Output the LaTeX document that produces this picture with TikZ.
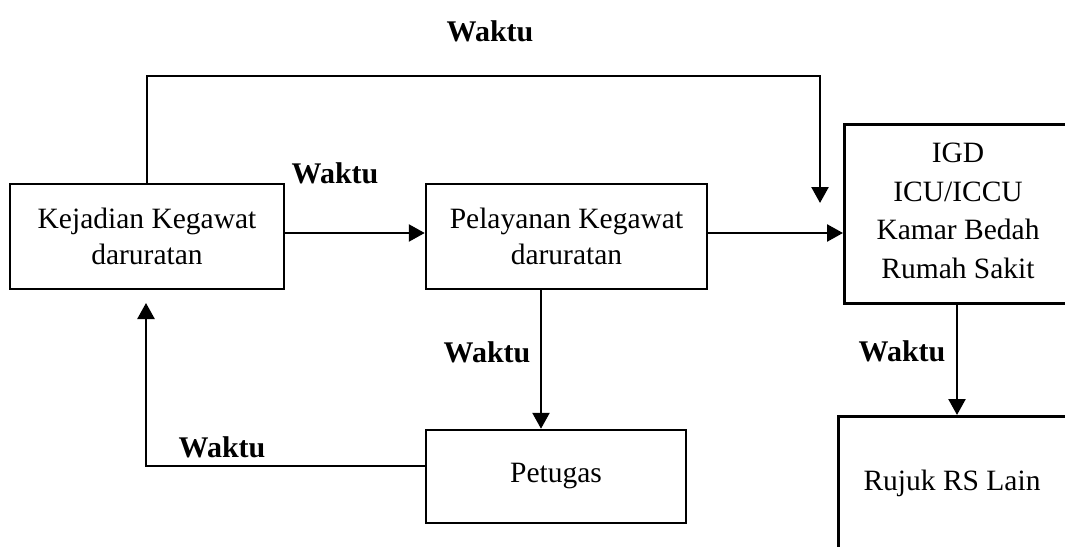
\documentclass[tikz,border=0pt]{standalone}
\usepackage{fontspec}
\setmainfont{Liberation Serif}
\usetikzlibrary{arrows.meta}
\tikzset{
  box/.style={draw, line width=2.5pt, rectangle, inner sep=0pt, align=center,
    font=\fontsize{29.5}{36}\selectfont},
  txt/.style={inner sep=0pt, align=center, font=\fontsize{29.5}{38.7}\selectfont},
  lab/.style={inner sep=0pt, font=\fontsize{30}{36}\selectfont\bfseries},
  arr/.style={line width=2.5pt, -{Triangle[length=16pt,width=17pt]}},
  ln/.style={line width=2.5pt}
}
\begin{document}
\begin{tikzpicture}[x=1pt,y=-1pt]
\useasboundingbox (0,0) rectangle (1065,546);
\clip (0,0) rectangle (1065,546);
\fill[white] (0,0) rectangle (1065,546);
% boxes
\node[box, minimum width=274pt, minimum height=105pt] (A) at (147,236.5)
  {Kejadian Kegawat\\daruratan};
\node[box, minimum width=281pt, minimum height=105pt] (B) at (566.5,236.5)
  {Pelayanan Kegawat\\daruratan};
\node[box, minimum width=260pt, minimum height=93pt] (D) at (556,476.5) {Petugas};
\node[box, anchor=north west, minimum width=280pt, minimum height=179pt] (C) at (843,123) {};
\node[txt] (Ct) at (958,211) {IGD\\ICU/ICCU\\Kamar Bedah\\Rumah Sakit};
\node[box, anchor=north west, minimum width=280pt, minimum height=200pt] (E) at (837,415) {};
\node[txt] (Et) at (952,483) {Rujuk RS Lain};
% helper coordinates
\coordinate (t2) at (820,76);
\coordinate (t3) at (820,203);
\coordinate (bd) at (541,0);
\coordinate (ce) at (957,0);
\coordinate (da) at (146,303);
% connectors
\draw[arr] ([yshift=3.5pt]A.east) -- ([yshift=3.5pt]B.west);
\draw[arr] ([yshift=3.5pt]B.east) -- ([yshift=3.5pt]B.east -| C.west);
\draw[arr] (A.north) |- (t2) -- (t3);
\draw[arr] (B.south -| bd) -- (D.north -| bd);
\draw[arr] ([yshift=10.5pt]D.west) -| (da);
\draw[arr] (C.south -| ce) -- (E.north -| ce);
% labels
\node[lab] (L1) at (490,31) {Waktu};
\node[lab] (L2) at (335,173) {Waktu};
\node[lab] (L3) at (487,352) {Waktu};
\node[lab] (L4) at (222,447) {Waktu};
\node[lab] (L5) at (902,351) {Waktu};
\end{tikzpicture}
\end{document}
